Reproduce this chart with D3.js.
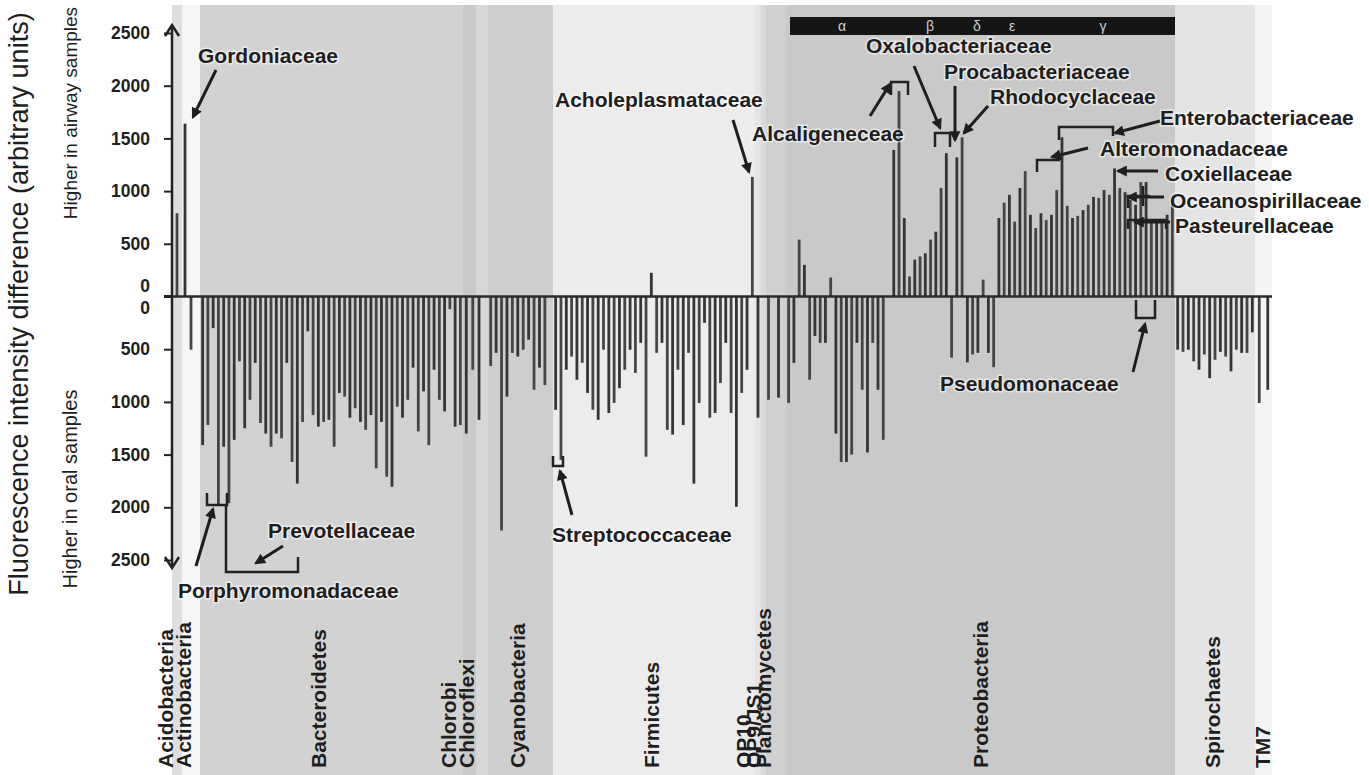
<!DOCTYPE html>
<html><head><meta charset="utf-8">
<script src="https://cdn.jsdelivr.net/npm/d3@7"></script>
<style>body{margin:0;background:#fff;} svg{display:block;} text{font-family:"Liberation Sans",Arial,Helvetica,sans-serif;fill:#1e1e1e;}</style>
</head><body><svg id="c" width="1369" height="775"></svg>
<script>
// ---------- DATA ----------
const phylumNames = ["Acidobacteria","Actinobacteria","Bacteroidetes","Chlorobi","Chloroflexi","Cyanobacteria","Firmicutes","OP10","OP9/JS1","Planctomycetes","Proteobacteria","Spirochaetes","TM7"];
// signed fluorescence difference (+ higher in airway, - higher in oral); null = empty probe slot
const acidobacteria = [790];
const actinobacteria = [1640, -505, null];
const bacteroidetes = [-1410,-1220,-300,-1980,-1425,-1960,-1360,-615,-1250,-980,-630,-1200,-1300,-1425,-1300,-1345,-630,-1570,-1775,-1190,-330,-1125,-1235,-1190,-1170,-1425,-915,-950,-1150,-1060,-1190,-1265,-1125,-1630,-1190,-1710,-1805,-1045,-1150,-980,-675,-1280,-900,-1410,-695,-980,-1090,-120,-1235,-1220];
const chlorobi = [-1300,-695];
const chloroflexi = [-1170,null];
const cyanobacteria = [-660,-535,-2220,-950,-535,-570,-505,-410,-885,-675,-840,null];
const firmicutes = [-1075,-1550,-695,-570,-790,-630,-915,-1075,-1170,-505,-1105,-1010,-870,-695,-505,-725,-440,-1520,225,-535,-440,-1265,-1310,-695,-1220,-535,-1775,-1010,-250,-1150,-1105,-820,-440,-1105,-1995,-915,-695,1135];
const op10 = [-1150];
const op9js1 = [null];
const planctomycetes = [-980,null,-960,null];
const proteobacteria = [-1010,-630,540,300,-790,-375,-440,-440,180,-1300,-1570,-1570,-1500,-440,-885,-1480,-440,-885,-1360,null,
  1390,1950,745,190,350,380,410,540,615,1030,1360,-580,1320,1510,-625,-550,-535,160,-535,-670,
  745,890,965,710,1030,1190,775,650,790,725,775,1010,1510,860,745,765,820,870,945,935,1010,965,1215,1030,990,915,870,1085,1085,725,725,725,775,915];
const spirochaetes = [-505,-525,-505,-615,-695,-550,-775,-600,-525,-570,-710,-505,-535,-535,-340];
const tm7 = [-1010,-885];
const tickValues = [2500,2000,1500,1000,500,-500,-1000,-1500,-2000,-2500];
const subdivisions = ["α","β","δ","ε","γ"];

// ---------- LAYOUT ----------
const groups = [acidobacteria,actinobacteria,bacteroidetes,chlorobi,chloroflexi,cyanobacteria,firmicutes,op10,op9js1,planctomycetes,proteobacteria,spirochaetes,tm7];
const bandEdges = [172,182,200,463,476,488,553,755,761,766,786,1175,1255,1272];
const bandColors = ["#dedede","#f6f6f6","#d2d2d2","#c9c9c9","#d7d7d7","#cecece","#ececec","#e4e4e4","#dadada","#d0d0d0","#c9c9c9","#e4e4e4","#f4f4f4"];
const labelX = [165,183,318,448,466,517,651,743,753,763,980,1212,1262];
const subX = [842,930,977,1012,1103];

const svg = d3.select("#c");
const starts = [0];
groups.forEach(g => starts.push(starts[starts.length-1] + g.length));
const x = d3.scaleLinear().domain(starts).range(bandEdges);
const y = d3.scaleLinear().domain([-2500,2500]).range([560,33]);
const y0 = y(0);

// bands
svg.append("g").selectAll("rect").data(phylumNames).join("rect")
  .attr("x",(d,i)=>x(starts[i])).attr("y",5)
  .attr("width",(d,i)=>x(starts[i+1])-x(starts[i])).attr("height",770)
  .attr("fill",(d,i)=>bandColors[i]);

// subdivision bar (Proteobacteria classes)
const pi = phylumNames.indexOf("Proteobacteria");
svg.append("rect").attr("x",x(starts[pi])+4).attr("y",17).attr("width",x(starts[pi+1])-x(starts[pi])-4).attr("height",18).attr("fill","#151515");
svg.append("g").selectAll("text").data(subdivisions).join("text")
  .attr("x",(d,i)=>subX[i]).attr("y",31).attr("text-anchor","middle")
  .style("font-size","14px").style("fill","#cfcfcf").text(d=>d);

// bars
const bars = groups.flatMap((g,gi)=>g.map((v,j)=>({v,slot:starts[gi]+j}))).filter(d=>d.v!==null);
svg.append("g").selectAll("rect").data(bars).join("rect")
  .attr("x",d=>x(d.slot+0.5)-1.4).attr("width",2.8)
  .attr("y",d=>d.v>0?y(d.v):y0).attr("height",d=>Math.abs(y(d.v)-y0))
  .attr("fill",(d,i)=>i%2?"#353535":"#454545");

// baseline
svg.append("line").attr("x1",172).attr("x2",x(starts[starts.length-1])).attr("y1",y0).attr("y2",y0)
  .attr("stroke","#2a2a2a").attr("stroke-width",2.5);

// axis
const ax = svg.append("g").attr("transform","translate(172,0)")
  .call(d3.axisLeft(y).tickValues(tickValues).tickFormat(d=>Math.abs(d)).tickSize(8).tickPadding(14));
ax.select(".domain").remove();
ax.selectAll("line").attr("stroke","#222").attr("stroke-width",2);
ax.selectAll("text").style("font-size","17.5px").style("font-weight","bold").style("font-family","'Liberation Sans',Arial,sans-serif").attr("fill","#1e1e1e");
[-11,11].forEach(o=>svg.append("text").attr("x",150).attr("y",y0+o).attr("dy","0.35em").attr("text-anchor","end").style("font-size","17.5px").style("font-weight","bold").text("0"));
svg.append("line").attr("x1",164).attr("x2",172).attr("y1",y0).attr("y2",y0).attr("stroke","#222").attr("stroke-width",3);
svg.append("line").attr("x1",172).attr("x2",172).attr("y1",y(2500)-8).attr("y2",y(-2500)+8).attr("stroke","#222").attr("stroke-width",2.5);
svg.append("path").attr("d",`M165,${y(2500)+3} L172,${y(2500)-8} L179,${y(2500)+3}`).attr("fill","none").attr("stroke","#222").attr("stroke-width",2.5);
svg.append("path").attr("d",`M165,${y(-2500)-3} L172,${y(-2500)+8} L179,${y(-2500)-3}`).attr("fill","none").attr("stroke","#222").attr("stroke-width",2.5);

// axis titles
svg.append("text").attr("transform","translate(19,304) rotate(-90)").attr("dy","0.35em").attr("text-anchor","middle")
  .style("font-size","27px").text("Fluorescence intensity difference (arbitrary units)");
svg.append("text").attr("transform","translate(70,113) rotate(-90)").attr("dy","0.35em").attr("text-anchor","middle")
  .style("font-size","19px").text("Higher in airway samples");
svg.append("text").attr("transform","translate(70,489) rotate(-90)").attr("dy","0.35em").attr("text-anchor","middle")
  .style("font-size","20px").text("Higher in oral samples");

// phylum labels
svg.append("g").selectAll("text").data(phylumNames).join("text")
  .attr("transform",(d,i)=>`translate(${labelX[i]+8},768) rotate(-90)`)
  .style("font-size","21px").style("font-weight","bold").text(d=>d);

// annotations
const defs = svg.append("defs");
defs.append("marker").attr("id","ah").attr("viewBox","0 0 10 10").attr("refX",8).attr("refY",5)
  .attr("markerWidth",13).attr("markerHeight",11).attr("markerUnits","userSpaceOnUse").attr("orient","auto")
  .append("path").attr("d","M0,0 L10,5 L0,10 z").attr("fill","#1e1e1e");

const notes = [
  {t:"Gordoniaceae",x:198,y:63,a:[216,70,193,117]},
  {t:"Acholeplasmataceae",x:555,y:107,a:[733,120,749,172]},
  {t:"Alcaligeneceae",x:752,y:141,a:[870,116,890,84]},
  {t:"Oxalobacteriaceae",x:866,y:53,a:[914,66,940,128]},
  {t:"Procabacteriaceae",x:944,y:79,a:[955,86,955,140]},
  {t:"Rhodocyclaceae",x:990,y:104,a:[988,106,964,133]},
  {t:"Enterobacteriaceae",x:1160,y:125,a:[1160,121,1115,133]},
  {t:"Alteromonadaceae",x:1100,y:156,a:[1088,148,1052,157]},
  {t:"Coxiellaceae",x:1165,y:181,a:[1158,171,1118,171]},
  {t:"Oceanospirillaceae",x:1170,y:208,a:[1164,197,1128,197]},
  {t:"Pasteurellaceae",x:1175,y:233,a:[1170,222,1135,222]},
  {t:"Pseudomonaceae",x:940,y:391,a:[1133,372,1145,324]},
  {t:"Streptococcaceae",x:552,y:542,a:[572,515,560,471]},
  {t:"Prevotellaceae",x:268,y:538,a:[283,546,256,563]},
  {t:"Porphyromonadaceae",x:178,y:598,a:[196,566,213,509]}
];
svg.append("g").selectAll("line").data(notes).join("line")
  .attr("x1",d=>d.a[0]).attr("y1",d=>d.a[1]).attr("x2",d=>d.a[2]).attr("y2",d=>d.a[3])
  .attr("stroke","#1e1e1e").attr("stroke-width",3).attr("marker-end","url(#ah)");
svg.append("g").selectAll("text").data(notes).join("text")
  .attr("x",d=>d.x).attr("y",d=>d.y).style("font-size","21px").style("font-weight","bold")
  .style("paint-order","stroke").style("stroke","rgba(255,255,255,0.55)").style("stroke-width","3px").text(d=>d.t);

const brackets = [
  "M891,95 V82 H908 V95",
  "M935,147 V133 H950 V147",
  "M1059,140 V127 H1113 V136",
  "M1037,172 V160 H1060",
  "M1128,208 V196 H1150 M1143,186 V206",
  "M1128,229 V220 H1166 V229",
  "M1136,300 V318 H1155 V300",
  "M553,456 V466 H563 V456",
  "M207,493 V505 H227 V493",
  "M226,505 V572 H298 V557"
];
svg.append("g").selectAll("path").data(brackets).join("path").attr("d",d=>d)
  .attr("fill","none").attr("stroke","#222").attr("stroke-width",2.5);
</script></body></html>
